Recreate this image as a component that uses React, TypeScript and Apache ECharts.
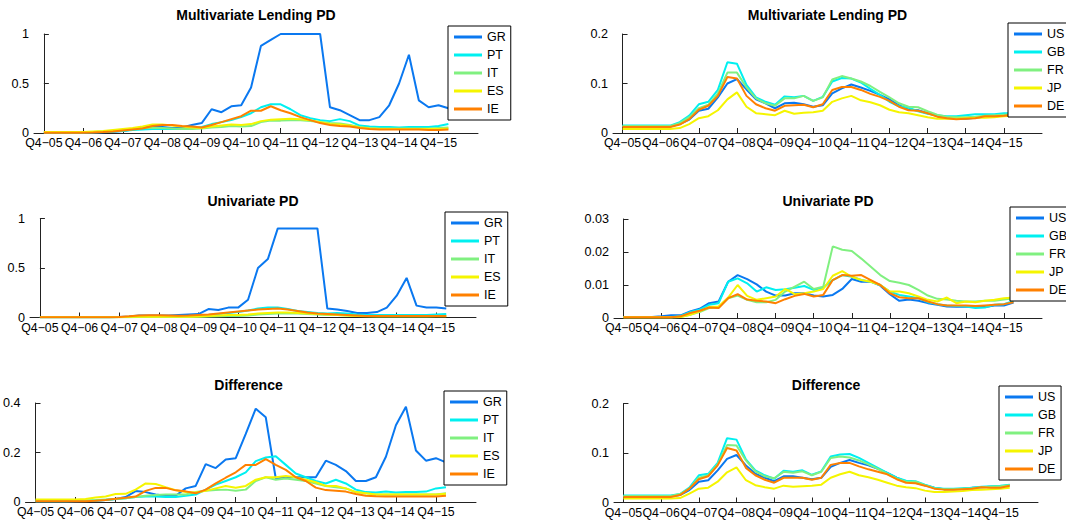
import React, { useEffect, useRef } from "react";
import * as echarts from "echarts";

// ---------- data ----------
const TICK_LABELS = ["Q4−05", "Q4−06", "Q4−07", "Q4−08", "Q4−09", "Q4−10", "Q4−11", "Q4−12", "Q4−13", "Q4−14", "Q4−15"];
const EURO_NAMES = ["GR", "PT", "IT", "ES", "IE"];
const CORE_NAMES = ["US", "GB", "FR", "JP", "DE"];
const COLORS = ["#0a78f0", "#00f0f0", "#80f080", "#f5f500", "#ff8000"];

// Multivariate Lending PD (euro periphery)
const GR_MV = [0.005,0.005,0.005,0.005,0.005,0.005,0.008,0.012,0.02,0.035,0.055,0.065,0.06,0.05,0.055,0.08,0.1,0.24,0.21,0.27,0.28,0.46,0.88,0.94,1,1,1,1,1,0.26,0.23,0.18,0.13,0.13,0.16,0.28,0.5,0.79,0.33,0.26,0.28,0.25];
const PT_MV = [0.005,0.005,0.005,0.005,0.005,0.008,0.01,0.015,0.02,0.03,0.035,0.04,0.04,0.04,0.04,0.045,0.06,0.09,0.11,0.13,0.16,0.2,0.26,0.29,0.29,0.24,0.18,0.15,0.13,0.12,0.14,0.12,0.075,0.065,0.06,0.06,0.055,0.06,0.06,0.06,0.07,0.09];
const IT_MV = [0.005,0.005,0.005,0.005,0.007,0.01,0.015,0.02,0.03,0.04,0.05,0.05,0.05,0.045,0.04,0.04,0.045,0.055,0.06,0.07,0.065,0.07,0.11,0.125,0.125,0.13,0.13,0.12,0.11,0.1,0.095,0.08,0.06,0.05,0.045,0.045,0.045,0.045,0.045,0.045,0.05,0.055];
const ES_MV = [0.01,0.01,0.01,0.01,0.01,0.015,0.02,0.03,0.04,0.05,0.065,0.085,0.085,0.075,0.065,0.055,0.05,0.065,0.075,0.085,0.08,0.09,0.12,0.135,0.14,0.145,0.14,0.13,0.11,0.09,0.085,0.075,0.055,0.045,0.04,0.04,0.04,0.04,0.04,0.04,0.04,0.045];
const IE_MV = [0.003,0.003,0.003,0.003,0.003,0.006,0.01,0.015,0.025,0.035,0.045,0.07,0.08,0.08,0.07,0.065,0.055,0.08,0.11,0.14,0.17,0.225,0.225,0.27,0.23,0.2,0.16,0.13,0.1,0.08,0.07,0.065,0.05,0.04,0.035,0.035,0.035,0.035,0.035,0.03,0.03,0.035];

// Univariate PD (euro periphery)
const GR_UV = [0.003,0.003,0.003,0.003,0.003,0.003,0.003,0.003,0.005,0.01,0.02,0.02,0.02,0.02,0.025,0.03,0.035,0.085,0.075,0.1,0.1,0.18,0.5,0.59,0.9,0.9,0.9,0.9,0.9,0.09,0.08,0.065,0.045,0.045,0.055,0.1,0.22,0.4,0.12,0.1,0.1,0.09];
const PT_UV = [0.002,0.002,0.002,0.002,0.002,0.002,0.002,0.002,0.004,0.006,0.008,0.01,0.01,0.01,0.01,0.012,0.015,0.025,0.035,0.045,0.055,0.07,0.09,0.1,0.1,0.085,0.065,0.055,0.045,0.04,0.045,0.04,0.03,0.025,0.025,0.025,0.025,0.025,0.025,0.025,0.03,0.035];
const IT_UV = [0.002,0.002,0.002,0.002,0.002,0.002,0.002,0.002,0.002,0.002,0.005,0.005,0.005,0.005,0.005,0.005,0.008,0.01,0.012,0.015,0.015,0.02,0.03,0.035,0.04,0.04,0.04,0.035,0.03,0.025,0.025,0.02,0.015,0.014,0.013,0.013,0.013,0.013,0.013,0.013,0.014,0.015];
const ES_UV = [0.002,0.002,0.002,0.002,0.002,0.002,0.002,0.002,0.002,0.007,0.007,0.007,0.007,0.007,0.007,0.007,0.01,0.015,0.02,0.025,0.025,0.03,0.04,0.045,0.05,0.05,0.045,0.04,0.035,0.03,0.025,0.02,0.015,0.012,0.012,0.012,0.012,0.012,0.012,0.012,0.012,0.012];
const IE_UV = [0.002,0.002,0.002,0.002,0.002,0.002,0.002,0.002,0.005,0.012,0.02,0.022,0.022,0.02,0.018,0.02,0.025,0.03,0.04,0.05,0.06,0.07,0.08,0.085,0.09,0.08,0.065,0.05,0.04,0.035,0.03,0.025,0.02,0.015,0.015,0.015,0.015,0.015,0.015,0.015,0.015,0.015];

// Difference (euro periphery)
const GR_DF = [0.003,0.003,0.003,0.003,0.003,0.004,0.005,0.008,0.012,0.02,0.044,0.04,0.03,0.025,0.025,0.055,0.065,0.153,0.137,0.172,0.177,0.275,0.377,0.342,0.095,0.1,0.1,0.1,0.1,0.167,0.15,0.125,0.085,0.085,0.1,0.183,0.31,0.385,0.208,0.167,0.177,0.16];
const PT_DF = [0.003,0.003,0.003,0.003,0.004,0.005,0.006,0.008,0.012,0.015,0.02,0.022,0.022,0.02,0.02,0.025,0.03,0.05,0.07,0.085,0.1,0.12,0.165,0.18,0.185,0.15,0.115,0.1,0.085,0.075,0.09,0.075,0.05,0.04,0.038,0.042,0.038,0.04,0.04,0.042,0.055,0.06];
const IT_DF = [0.005,0.005,0.005,0.005,0.005,0.006,0.008,0.01,0.012,0.015,0.02,0.025,0.028,0.03,0.03,0.03,0.04,0.045,0.048,0.05,0.045,0.05,0.085,0.1,0.09,0.095,0.09,0.085,0.075,0.065,0.06,0.055,0.04,0.035,0.03,0.03,0.03,0.03,0.03,0.03,0.03,0.035];
const ES_DF = [0.01,0.01,0.01,0.01,0.01,0.012,0.018,0.022,0.032,0.033,0.05,0.075,0.073,0.06,0.048,0.04,0.038,0.045,0.055,0.065,0.058,0.065,0.09,0.1,0.1,0.105,0.1,0.09,0.08,0.065,0.065,0.055,0.04,0.035,0.03,0.03,0.03,0.03,0.03,0.03,0.03,0.033];
const IE_DF = [0.003,0.003,0.003,0.003,0.003,0.003,0.005,0.008,0.013,0.017,0.022,0.045,0.057,0.057,0.047,0.043,0.035,0.05,0.075,0.098,0.12,0.15,0.15,0.173,0.15,0.13,0.1,0.085,0.058,0.048,0.045,0.042,0.032,0.025,0.023,0.022,0.022,0.022,0.022,0.022,0.022,0.025];

// Multivariate Lending PD (core)
const US_MV = [0.013,0.013,0.013,0.013,0.013,0.013,0.018,0.027,0.045,0.049,0.072,0.1,0.109,0.088,0.068,0.06,0.05,0.06,0.061,0.058,0.053,0.056,0.08,0.09,0.098,0.092,0.085,0.077,0.068,0.056,0.047,0.046,0.04,0.035,0.031,0.029,0.029,0.031,0.033,0.034,0.036,0.038];
const GB_MV = [0.015,0.015,0.015,0.015,0.015,0.015,0.022,0.035,0.058,0.063,0.087,0.143,0.14,0.097,0.072,0.063,0.057,0.074,0.072,0.075,0.065,0.073,0.104,0.111,0.11,0.102,0.089,0.077,0.063,0.054,0.051,0.044,0.039,0.036,0.034,0.034,0.036,0.038,0.038,0.038,0.04,0.04];
const FR_MV = [0.014,0.014,0.014,0.014,0.014,0.014,0.02,0.032,0.05,0.057,0.08,0.122,0.122,0.092,0.07,0.06,0.055,0.07,0.07,0.075,0.065,0.072,0.108,0.115,0.11,0.104,0.095,0.083,0.072,0.06,0.053,0.052,0.044,0.037,0.033,0.032,0.032,0.033,0.035,0.036,0.037,0.038];
const JP_MV = [0.008,0.008,0.008,0.008,0.008,0.008,0.01,0.018,0.03,0.034,0.046,0.068,0.082,0.053,0.04,0.038,0.036,0.045,0.039,0.041,0.042,0.045,0.063,0.07,0.075,0.066,0.062,0.056,0.047,0.042,0.04,0.036,0.032,0.029,0.029,0.029,0.03,0.031,0.031,0.032,0.034,0.035];
const DE_MV = [0.012,0.012,0.012,0.012,0.012,0.012,0.017,0.028,0.047,0.055,0.075,0.113,0.11,0.075,0.058,0.05,0.045,0.055,0.056,0.057,0.052,0.058,0.087,0.093,0.093,0.087,0.079,0.073,0.065,0.053,0.046,0.045,0.04,0.033,0.03,0.028,0.029,0.03,0.034,0.034,0.035,0.037];

// Univariate PD (core)
const US_UV = [0.0003,0.0003,0.0003,0.0003,0.0005,0.0008,0.0008,0.002,0.0028,0.0045,0.005,0.011,0.013,0.0118,0.0102,0.008,0.0068,0.0068,0.0075,0.0075,0.0068,0.0065,0.007,0.0088,0.0118,0.011,0.011,0.0098,0.0072,0.0052,0.0056,0.0052,0.0045,0.004,0.0035,0.0034,0.0035,0.0033,0.0033,0.0038,0.0038,0.0047];
const GB_UV = [0.0003,0.0003,0.0003,0.0003,0.0003,0.0003,0.0006,0.0018,0.0025,0.004,0.0045,0.011,0.012,0.0105,0.008,0.0093,0.0085,0.0087,0.0092,0.0097,0.0085,0.0092,0.0115,0.013,0.0125,0.0115,0.011,0.01,0.008,0.007,0.0065,0.006,0.0048,0.0042,0.0038,0.0036,0.0035,0.003,0.0032,0.004,0.0042,0.0052];
const FR_UV = [0.0002,0.0002,0.0002,0.0002,0.0002,0.0002,0.0003,0.001,0.0018,0.003,0.0032,0.006,0.0068,0.0055,0.0048,0.0048,0.0055,0.008,0.0095,0.011,0.0088,0.0095,0.0217,0.0207,0.0203,0.018,0.0155,0.013,0.0112,0.0107,0.01,0.0085,0.0068,0.0058,0.0056,0.0052,0.005,0.005,0.0052,0.0052,0.0056,0.006];
const JP_UV = [0.0002,0.0002,0.0002,0.0002,0.0002,0.0002,0.0003,0.001,0.002,0.0033,0.0035,0.0062,0.01,0.0067,0.0055,0.006,0.0065,0.0088,0.0072,0.0075,0.008,0.0088,0.0128,0.0142,0.0125,0.0115,0.011,0.01,0.008,0.008,0.0075,0.0065,0.0055,0.005,0.0062,0.0045,0.005,0.0048,0.0052,0.0055,0.006,0.0062];
const DE_UV = [0.0002,0.0002,0.0002,0.0002,0.0002,0.0002,0.0005,0.0015,0.0022,0.0032,0.003,0.006,0.0072,0.0056,0.0052,0.005,0.0045,0.0057,0.0067,0.0073,0.0065,0.007,0.0115,0.013,0.0128,0.013,0.0115,0.01,0.0075,0.0063,0.006,0.006,0.005,0.0042,0.0038,0.0038,0.0038,0.0036,0.0038,0.004,0.0042,0.0048];

// Difference (core)
const US_DF = [0.012,0.012,0.012,0.012,0.012,0.012,0.015,0.025,0.042,0.045,0.065,0.088,0.096,0.075,0.058,0.05,0.043,0.053,0.053,0.05,0.047,0.05,0.072,0.08,0.086,0.08,0.075,0.068,0.06,0.05,0.042,0.04,0.035,0.03,0.027,0.027,0.028,0.03,0.031,0.032,0.032,0.035];
const GB_DF = [0.014,0.014,0.014,0.014,0.014,0.014,0.017,0.03,0.055,0.058,0.08,0.13,0.127,0.087,0.065,0.055,0.048,0.064,0.062,0.065,0.056,0.063,0.093,0.097,0.098,0.09,0.08,0.07,0.06,0.05,0.044,0.043,0.036,0.03,0.028,0.028,0.029,0.03,0.032,0.033,0.034,0.036];
const FR_DF = [0.013,0.013,0.013,0.013,0.013,0.013,0.017,0.028,0.05,0.055,0.077,0.116,0.115,0.085,0.063,0.053,0.049,0.062,0.06,0.063,0.055,0.062,0.09,0.093,0.091,0.085,0.077,0.068,0.058,0.048,0.042,0.042,0.035,0.029,0.027,0.027,0.028,0.029,0.031,0.032,0.033,0.035];
const JP_DF = [0.008,0.008,0.008,0.008,0.008,0.008,0.009,0.018,0.028,0.03,0.042,0.061,0.071,0.045,0.035,0.031,0.028,0.034,0.032,0.033,0.034,0.036,0.05,0.057,0.062,0.055,0.051,0.046,0.04,0.034,0.031,0.029,0.024,0.021,0.021,0.022,0.023,0.025,0.026,0.027,0.028,0.03];
const DE_DF = [0.011,0.011,0.011,0.011,0.011,0.011,0.015,0.028,0.047,0.053,0.075,0.11,0.105,0.07,0.055,0.046,0.04,0.05,0.05,0.05,0.046,0.05,0.076,0.08,0.08,0.073,0.067,0.062,0.057,0.047,0.04,0.039,0.034,0.028,0.026,0.026,0.027,0.028,0.031,0.03,0.03,0.034];

// ---------- layout ----------
const FONT = "'Liberation Sans', Arial, Helvetica, sans-serif";

const PANELS = [
  { title: "Multivariate Lending PD", grid: { left: 34, top: 34, width: 444, height: 99 }, titleY: 15, yMax: 1, yInt: 0.5, legend: { left: 448, top: 26 }, names: EURO_NAMES, data: [GR_MV, PT_MV, IT_MV, ES_MV, IE_MV] },
  { title: "Multivariate Lending PD", grid: { left: 613, top: 34, width: 429, height: 99 }, titleY: 15, yMax: 0.2, yInt: 0.1, legend: { left: 1008, top: 23 }, names: CORE_NAMES, data: [US_MV, GB_MV, FR_MV, JP_MV, DE_MV] },
  { title: "Univariate PD", grid: { left: 30, top: 218.5, width: 446, height: 99 }, titleY: 200.5, yMax: 1, yInt: 0.5, legend: { left: 445, top: 212 }, names: EURO_NAMES, data: [GR_UV, PT_UV, IT_UV, ES_UV, IE_UV] },
  { title: "Univariate PD", grid: { left: 614, top: 219, width: 428, height: 99 }, titleY: 200.5, yMax: 0.03, yInt: 0.01, legend: { left: 1010, top: 207 }, names: CORE_NAMES, data: [US_UV, GB_UV, FR_UV, JP_UV, DE_UV] },
  { title: "Difference", grid: { left: 21, top: 403, width: 455, height: 99 }, titleY: 385, yMax: 0.4, yInt: 0.2, legend: { left: 444, top: 391 }, names: EURO_NAMES, data: [GR_DF, PT_DF, IT_DF, ES_DF, IE_DF] },
  { title: "Difference", grid: { left: 614, top: 403.5, width: 424, height: 99 }, titleY: 385, yMax: 0.2, yInt: 0.1, legend: { left: 999, top: 386 }, names: CORE_NAMES, data: [US_DF, GB_DF, FR_DF, JP_DF, DE_DF] },
];

const TICK_VALUES = TICK_LABELS.map((_, i) => i * 4);

function buildOption() {
  const grid: any[] = [];
  const xAxis: any[] = [];
  const yAxis: any[] = [];
  const series: any[] = [];
  const legend: any[] = [];
  const graphic: any[] = [];

  PANELS.forEach((p, k) => {
    grid.push({ ...p.grid, containLabel: false });
    xAxis.push({
      gridIndex: k,
      type: "value",
      min: -1,
      max: 44,
      axisLine: { show: true, onZero: false, lineStyle: { color: "#222", width: 1 } },
      axisTick: { show: true, inside: true, length: 5, customValues: TICK_VALUES, lineStyle: { color: "#222" } },
      axisLabel: {
        customValues: TICK_VALUES,
        formatter: (v: number) => TICK_LABELS[Math.round(v / 4)] ?? "",
        fontSize: 12.3,
        color: "#000",
        margin: 4,
        fontFamily: FONT,
        hideOverlap: false,
        showMinLabel: true,
        showMaxLabel: true,
      },
      splitLine: { show: false },
    });
    yAxis.push({
      gridIndex: k,
      type: "value",
      min: 0,
      max: p.yMax,
      interval: p.yInt,
      axisLine: { show: true, lineStyle: { color: "#222", width: 1 } },
      axisTick: { show: true, inside: true, length: 5, lineStyle: { color: "#222" } },
      axisLabel: { fontSize: 12.6, color: "#000", margin: 5, fontFamily: FONT, showMinLabel: true, showMaxLabel: true },
      splitLine: { show: false },
    });
    p.names.forEach((name, j) => {
      series.push({
        type: "line",
        name,
        xAxisIndex: k,
        yAxisIndex: k,
        data: p.data[j].map((v, i) => [i, v]),
        symbol: "none",
        showSymbol: false,
        color: COLORS[j],
        lineStyle: { color: COLORS[j], width: 2 },
        itemStyle: { color: COLORS[j] },
        z: 2 + j,
      });
    });
    legend.push({
      left: p.legend.left,
      top: p.legend.top,
      orient: "vertical",
      data: p.names,
      icon: "rect",
      itemWidth: 28,
      itemHeight: 3,
      itemGap: 4,
      padding: [4, 5, 4, 6],
      backgroundColor: "#fff",
      borderColor: "#000",
      borderWidth: 1,
      selectedMode: false,
      textStyle: { fontSize: 12.5, color: "#000", fontFamily: FONT, lineHeight: 14 },
      z: 10,
    });
    graphic.push({
      type: "text",
      x: p.grid.left + p.grid.width / 2,
      y: p.titleY,
      style: {
        text: p.title,
        fontSize: 14,
        fontWeight: "bold",
        fill: "#000",
        fontFamily: FONT,
        align: "center",
        verticalAlign: "middle",
      },
    });
  });

  return {
    animation: false,
    backgroundColor: "#fff",
    grid,
    xAxis,
    yAxis,
    series,
    legend,
    graphic,
  };
}

export default function App() {
  const ref = useRef<HTMLDivElement>(null);
  useEffect(() => {
    if (!ref.current) return;
    const chart = echarts.init(ref.current, undefined, { renderer: "svg" });
    chart.setOption(buildOption() as any);
    return () => chart.dispose();
  }, []);
  return (
    <div
      ref={ref}
      style={{ position: "absolute", left: 0, top: 0, width: 1066, height: 527, background: "#fff" }}
    />
  );
}
